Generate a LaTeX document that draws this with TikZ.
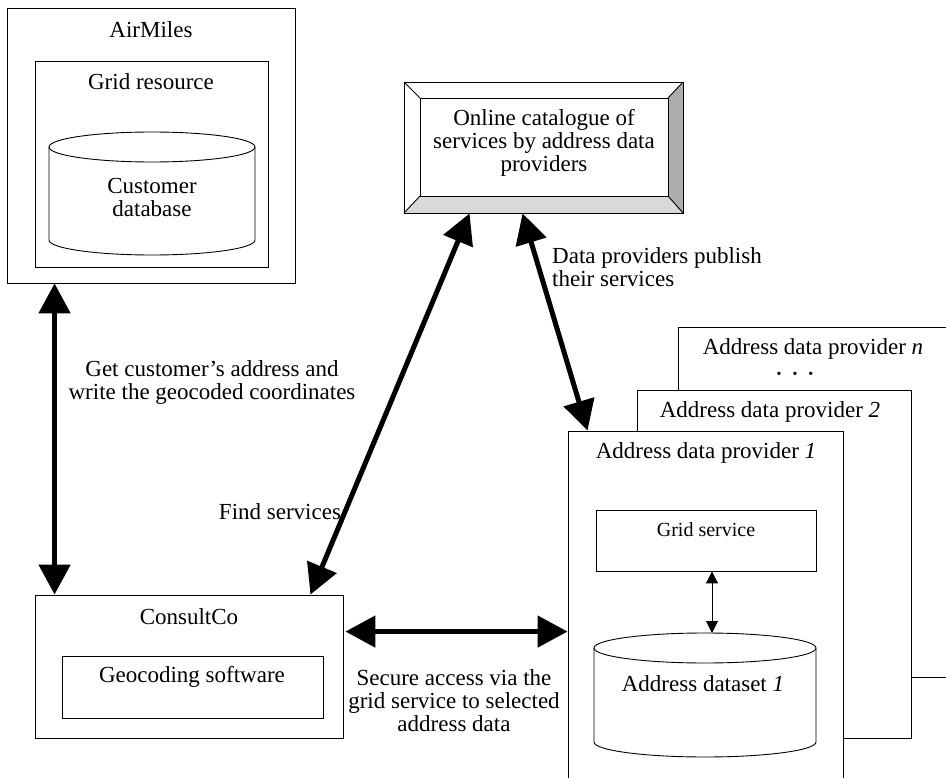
\documentclass[tikz,border=0pt]{standalone}
\usepackage{fontspec}
\setmainfont{Liberation Serif}
\usetikzlibrary{arrows.meta,calc}

\tikzset{
	box/.style={draw, line width=0.9pt, fill=white, inner sep=0pt},
	txt/.style={inner sep=0pt, align=center, font=\fontsize{23}{23}\selectfont},
	smalltxt/.style={inner sep=0pt, align=center, font=\fontsize{20}{20}\selectfont},
	bigarrow/.style={line width=5pt, {Triangle[length=30pt,width=31pt]}-{Triangle[length=30pt,width=31pt]}},
	thinarrow/.style={line width=1pt, {Triangle[length=12pt,width=12pt]}-{Triangle[length=12pt,width=12pt]}},
}

\begin{document}
\begin{tikzpicture}[x=1pt, y=-1pt]
			%%%%% START %%%%%
			
			\useasboundingbox (0,0) rectangle (946,778);
			\clip (0,0) rectangle (946,778);
			
			% AirMiles
			\node[box, minimum width=288pt, minimum height=275pt] (airmiles) at (151,145.5) {};
			\node[txt] (airmilestext) at (151,30) {AirMiles};
			\node[box, minimum width=233pt, minimum height=206pt] (gridres) at (151.5,164) {};
			\node[txt] (gridrestext) at (151,82) {Grid resource};
			\draw[line width=0.9pt] (49,147) -- (49,240) arc[start angle=180, end angle=360, x radius=103pt, y radius=15pt] -- (255,147);
			\draw[line width=0.9pt] (152,147) ellipse[x radius=103pt, y radius=15pt];
			\node[txt] (custdb) at (152,197) {Customer\\database};
			
			% catalogue
			\node[draw, line width=0.9pt, minimum width=279pt, minimum height=131pt] (catalogue) at (543.5,147.5) {};
			\fill[gray!30] (404,213) -- (683,213) -- (668,196) -- (420,196) -- cycle;
			\fill[gray!65] (683,82) -- (683,213) -- (668,196) -- (668,98) -- cycle;
			\draw[line width=0.9pt] (404,82) rectangle (683,213);
			\draw[line width=0.9pt] (420,98) rectangle (668,196);
			\draw[line width=0.9pt] (404,82) -- (420,98);
			\draw[line width=0.9pt] (683,82) -- (668,98);
			\draw[line width=0.9pt] (404,213) -- (420,196);
			\draw[line width=0.9pt] (683,213) -- (668,196);
			\node[txt] (cattext) at (544,143) {Online catalogue of\\services by address data\\providers};
			
			% address data providers
			\node[box, minimum width=282pt, minimum height=350pt] (provn) at (819,502) {};
			\node[txt] (provntext) at (813,349) {Address data provider \textit{n}};
			\node[inner sep=0pt, font=\fontsize{14}{14}\selectfont] (provndots) at (795,375) {\textbullet\hspace{11pt}\textbullet\hspace{11pt}\textbullet};
			\node[box, minimum width=274pt, minimum height=348pt] (prov2) at (774,564) {};
			\node[txt] (prov2text) at (770,412) {Address data provider \textit{2}};
			\node[box, minimum width=275pt, minimum height=359pt] (prov1) at (705.5,610.5) {};
			\node[txt] (prov1text) at (706,453) {Address data provider \textit{1}};
			\node[box, minimum width=220pt, minimum height=61pt] (gridsvc) at (706,540.5) {};
			\node[smalltxt] (gridsvctext) at (706,530) {Grid service};
			\draw[line width=0.9pt] (594,648) -- (594,742) arc[start angle=180, end angle=360, x radius=111pt, y radius=15pt] -- (816,648);
			\draw[line width=0.9pt] (705,648) ellipse[x radius=111pt, y radius=15pt];
			\coordinate (dstop) at (712,633);
			\node[txt] (datasettext) at (703,684) {Address dataset \textit{1}};
			
			% ConsultCo
			\node[box, minimum width=308pt, minimum height=143pt] (consult) at (189,666.5) {};
			\node[txt] (consulttext) at (189,617) {ConsultCo};
			\node[box, minimum width=261pt, minimum height=62pt] (geocode) at (192.5,687) {};
			\node[txt] (geocodetext) at (192,677) {Geocoding software};
			
			% arrows
			\draw[bigarrow] ($(airmiles.south west)+(48,0)$) -- ($(consult.north west)+(20,0)$);
			\draw[bigarrow] ($(catalogue.south west)+(66,0)$) -- ($(consult.north east)+(-33,0)$);
			\draw[bigarrow] ($(catalogue.south west)+(119,0)$) -- ($(prov1.north west)+(20,0)$);
			\draw[bigarrow] ($(consult.north east)+(2,37)$) -- ($(prov1.north west)+(0,201)$);
			\draw[thinarrow] ($(gridsvc.south)+(6,0)$) -- (dstop);
			
			% labels
			\node[txt] (gettext) at (212,383) {Get customer's address and\\write the geocoded coordinates};
			\node[txt] (findtext) at (280,512) {Find services};
			\node[txt, align=left] (publishtext) at (657,267) {Data providers publish\\their services};
			\node[txt] (securetext) at (454,701) {Secure access via the\\grid service to selected\\address data};
			
			%%%%% END %%%%%
		\end{tikzpicture}
\end{document}
